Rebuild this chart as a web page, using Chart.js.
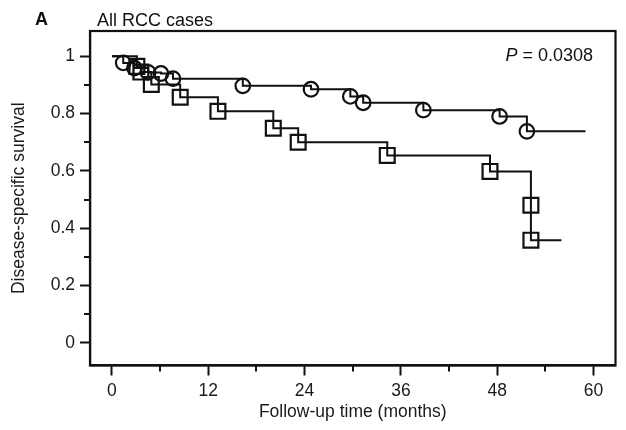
<!DOCTYPE html>
<html>
<head>
<meta charset="utf-8">
<script src="https://cdn.jsdelivr.net/npm/chart.js@4"></script>
<style>
    html, body { margin: 0; padding: 0; background: #fff; }
    #wrap { width: 626px; height: 430px; }
</style>
</head>
<body>
<div id="wrap"><canvas id="kmChart" width="626" height="430"></canvas></div>
<script>
// Kaplan-Meier curves (months, survival)
const circleTimes = [0, 1.4, 2.8, 4.5, 6.1, 7.6, 16.3, 24.8, 29.7, 31.3, 38.8, 48.3, 51.7, 59];
const circleSurv = [1, 0.977, 0.959, 0.944, 0.94, 0.922, 0.897, 0.885, 0.86, 0.838, 0.812, 0.79, 0.738, 0.738];

const squareTimes = [0, 3.1, 3.6, 4.9, 8.5, 13.2, 20.1, 23.2, 34.3, 47.1, 52.2, 52.2, 56];
const squareSurv = [1, 0.965, 0.945, 0.902, 0.857, 0.808, 0.749, 0.70, 0.654, 0.598, 0.48, 0.358, 0.358];

const xTicks = [0, 6, 12, 18, 24, 30, 36, 42, 48, 54, 60];
const xLabelTicks = [0, 12, 24, 36, 48, 60];
const yTicks = [0, 0.1, 0.2, 0.3, 0.4, 0.5, 0.6, 0.7, 0.8, 0.9, 1];
const yLabelTicks = [0, 0.2, 0.4, 0.6, 0.8, 1];

const panelLetter = 'A';
const panelTitle = 'All RCC cases';
const pValue = '0.0308';
const xTitle = 'Follow-up time (months)';
const yTitle = 'Disease-specific survival';

const ink = '#111';
const fontFamily = "'Liberation Sans', Arial, Helvetica, sans-serif";

function toPoints(times, surv) {
    return times.map((t, i) => ({ x: t, y: surv[i] }));
}

function isLabelTick(list, v) {
    return list.some(t => Math.abs(t - v) < 1e-6);
}

// end points of each curve carry no marker
function markerRadius(r) {
    return function(ctx) {
        const n = ctx.dataset.data.length;
        if (ctx.dataIndex === 0 || ctx.dataIndex === n - 1) return 0;
        return r;
    };
}

const frameAndText = {
    id: 'frameAndText',
    afterDraw(chart) {
        const { ctx, chartArea, scales } = chart;
        ctx.save();
        ctx.strokeStyle = ink;
        ctx.lineWidth = 2.2;
        ctx.strokeRect(chartArea.left, chartArea.top, chartArea.right - chartArea.left, chartArea.bottom - chartArea.top);

        // minor ticks, shorter than the labelled ones
        ctx.lineWidth = 2;
        xTicks.filter(v => !isLabelTick(xLabelTicks, v)).forEach(v => {
            const px = Math.round(scales.x.getPixelForValue(v));
            ctx.beginPath();
            ctx.moveTo(px, chartArea.bottom);
            ctx.lineTo(px, chartArea.bottom + 6);
            ctx.stroke();
        });
        yTicks.filter(v => !isLabelTick(yLabelTicks, v)).forEach(v => {
            const py = Math.round(scales.y.getPixelForValue(v));
            ctx.beginPath();
            ctx.moveTo(chartArea.left, py);
            ctx.lineTo(chartArea.left - 6, py);
            ctx.stroke();
        });

        ctx.fillStyle = ink;
        ctx.textBaseline = 'alphabetic';
        ctx.textAlign = 'left';
        ctx.font = 'bold 18px ' + fontFamily;
        ctx.fillText(panelLetter, 35, 24.5);
        ctx.font = '18px ' + fontFamily;
        ctx.fillText(panelTitle, 97, 25.5);

        // P value, right aligned, italic P
        ctx.font = '18px ' + fontFamily;
        const rest = ' = ' + pValue;
        const restW = ctx.measureText(rest).width;
        const right = 593;
        ctx.fillText(rest, right - restW, 61);
        ctx.font = 'italic 18px ' + fontFamily;
        const pW = ctx.measureText('P').width;
        ctx.fillText('P', right - restW - pW, 61);
        ctx.restore();
    }
};

const tickCtx = document.getElementById('kmChart').getContext('2d');
new Chart(tickCtx, {
    type: 'scatter',
    data: {
        datasets: [{
            label: 'circles',
            data: toPoints(circleTimes, circleSurv),
            showLine: true,
            stepped: 'before',
            borderColor: ink,
            borderWidth: 2,
            pointStyle: 'circle',
            pointRadius: markerRadius(7.3),
            pointBorderWidth: 2.2,
            pointBorderColor: ink,
            pointBackgroundColor: 'rgba(0,0,0,0)',
            clip: false
        }, {
            label: 'squares',
            data: toPoints(squareTimes, squareSurv),
            showLine: true,
            stepped: 'before',
            borderColor: ink,
            borderWidth: 2,
            pointStyle: 'rect',
            pointRadius: markerRadius(10.5),
            pointBorderWidth: 2.2,
            pointBorderColor: ink,
            pointBackgroundColor: 'rgba(0,0,0,0)',
            clip: false
        }]
    },
    options: {
        responsive: false,
        animation: false,
        devicePixelRatio: 1,
        layout: {
            padding: { top: 31, right: 10.5, left: 0, bottom: 0 }
        },
        plugins: {
            legend: { display: false },
            tooltip: { enabled: false },
            title: { display: false }
        },
        scales: {
            x: {
                type: 'linear',
                min: -2.74,
                max: 62.74,
                afterFit: function(scale) { scale.height = 64.5; },
                afterBuildTicks: function(scale) {
                    scale.ticks = xTicks.map(v => ({ value: v }));
                },
                grid: {
                    drawOnChartArea: false,
                    drawTicks: true,
                    tickLength: 10,
                    tickWidth: 2,
                    tickColor: ctx => (ctx.tick && isLabelTick(xLabelTicks, ctx.tick.value)) ? ink : 'rgba(0,0,0,0)'
                },
                border: { display: true, color: ink, width: 2.2 },
                ticks: {
                    autoSkip: false,
                    maxRotation: 0,
                    padding: 5,
                    color: '#1a1a1a',
                    font: { family: fontFamily, size: 17.5 },
                    callback: v => isLabelTick(xLabelTicks, v) ? String(v) : ''
                },
                title: {
                    display: true,
                    text: xTitle,
                    color: '#1a1a1a',
                    font: { family: fontFamily, size: 17.5 },
                    padding: { top: 0, bottom: 7 }
                }
            },
            y: {
                type: 'linear',
                min: -0.0797,
                max: 1.0885,
                afterFit: function(scale) { scale.width = 90; },
                afterBuildTicks: function(scale) {
                    scale.ticks = yTicks.map(v => ({ value: v }));
                },
                grid: {
                    drawOnChartArea: false,
                    drawTicks: true,
                    tickLength: 10,
                    tickWidth: 2,
                    tickColor: ctx => (ctx.tick && isLabelTick(yLabelTicks, ctx.tick.value)) ? ink : 'rgba(0,0,0,0)'
                },
                border: { display: true, color: ink, width: 2.2 },
                ticks: {
                    autoSkip: false,
                    padding: 5,
                    color: '#1a1a1a',
                    font: { family: fontFamily, size: 17.5 },
                    callback: v => isLabelTick(yLabelTicks, v) ? String(Math.round(v * 10) / 10) : ''
                },
                title: {
                    display: true,
                    text: yTitle,
                    color: '#1a1a1a',
                    font: { family: fontFamily, size: 17.5 },
                    padding: { top: 9, bottom: 0 }
                }
            }
        }
    },
    plugins: [frameAndText]
});
</script>
</body>
</html>
